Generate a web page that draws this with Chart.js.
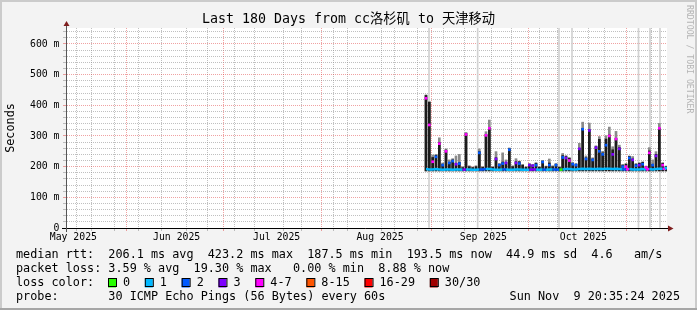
<!DOCTYPE html>
<html>
<head>
<meta charset="utf-8">
<script src="https://cdn.jsdelivr.net/npm/chart.js@4.4.1/dist/chart.umd.min.js"></script>
<style>
  html, body { margin: 0; padding: 0; background: #f3f3f3; }
  #smoke { display: block; width: 697px; height: 310px; }
</style>
</head>
<body>
<canvas id="smoke" width="697" height="310"></canvas>
<script>
const MONO = '"DejaVu Sans Mono", "Noto Sans CJK SC", monospace';
const TITLE = 'Last 180 Days from cc洛杉矶 to 天津移动';

// x is measured in days from the left edge of the 180 day window
const X_MAX = 180;
const WEEK_TICKS = [3.7, 10.7, 17.7, 24.7, 31.7, 38.7, 45.7, 52.7, 59.7, 66.7, 73.7, 80.7, 87.7,
    94.7, 101.7, 108.7, 115.7, 122.7, 129.7, 136.7, 143.7, 150.7, 157.7, 164.7, 171.7, 178.7];
const MONTH_TICKS = [17.9, 47.9, 78.9, 109.9, 139.9, 170.9];
const LABEL_TICKS = [1.9, 32.9, 62.9, 93.9, 124.9, 154.9];
const MONTH_LABELS = ['May 2025', 'Jun 2025', 'Jul 2025', 'Aug 2025', 'Sep 2025', 'Oct 2025'];

const Y_MAX = 652;
const Y_STEP = 20;
const Y_LABELS = ['0', '100 m', '200 m', '300 m', '400 m', '500 m', '600 m'];

// one sample per day, first one at day 107.7 (ms)
const FIRST_DAY = 107.7;
const SMOKE_FLOOR = 186;
const BLACK_TOP = [432, 410, 230, 237, 279, 208, 254, 214, 222, 211, 214, 197, 309, 200, 197, 200,
    249, 198, 305, 327, 198, 229, 208, 215, 214, 258, 200, 216, 216, 205, 198, 208, 205, 211, 198,
    218, 200, 212, 200, 208, 198, 236, 233, 227, 211, 208, 260, 325, 229, 320, 225, 265, 289, 245,
    290, 303, 255, 292, 262, 205, 208, 233, 225, 208, 211, 214, 200, 251, 208, 240, 325, 211, 200];
const GRAY_TOP = [434, 412, 238, 240, 294, 212, 258, 222, 226, 235, 240, 200, 311, 203, 199, 203,
    258, 200, 314, 352, 200, 249, 210, 245, 222, 261, 203, 226, 218, 207, 200, 210, 207, 213, 200,
    220, 202, 225, 203, 210, 200, 243, 236, 230, 214, 210, 276, 345, 235, 342, 229, 268, 298, 250,
    301, 329, 265, 315, 270, 207, 210, 235, 233, 210, 213, 216, 202, 262, 222, 249, 341, 213, 202];
const SPIKE_MED = [423, 336, 216, 232, 275, 205, 250, 212, 218, 208, 210, null, 305, null, null, null,
    245, null, 302, 325, null, 225, 205, 210, 212, 255, null, 212, 210, null, null, 205, 203, 205, null,
    215, null, 205, null, 205, null, 230, 228, 220, 208, 205, 258, 322, 225, 318, 222, 262, 250, 240,
    270, 300, 240, 290, 258, 200, 200, 228, 222, 203, 205, 208, 197, 245, 205, 235, 325, 205, 195];
const SPIKE_LOSS = [4, 4, 4, 2, 4, 2, 4, 2, 2, 3, 2, 1, 4, 1, 1, 1,
    2, 1, 4, 4, 1, 3, 2, 2, 3, 2, 1, 3, 2, 1, 1, 3, 3, 2, 1,
    2, 1, 2, 1, 2, 1, 2, 3, 4, 2, 2, 3, 2, 2, 3, 2, 3, 2, 2,
    2, 4, 3, 4, 3, 2, 4, 2, 3, 2, 3, 2, 4, 4, 2, 3, 4, 4, 1];
const BASE_MED = [192, 191, 191, 192, 191, 190, 191, 191, 190, 191, 191, 190, 191, 191, 190, 190,
    191, 191, 192, 192, 191, 190, 190, 191, 191, 190, 190, 191, 191, 190, 190, 190, 191, 191, 190,
    191, 190, 191, 191, 191, 190, 191, 192, 192, 191, 191, 192, 193, 192, 193, 192, 192, 193, 192,
    193, 193, 192, 193, 192, 191, 191, 192, 191, 191, 191, 192, 191, 192, 191, 192, 193, 193, 193];
const BASE_LOSS = [1, 1, 1, 1, 1, 1, 1, 1, 1, 1, 1, 3, 1, 1, 1, 1,
    2, 2, 1, 1, 1, 1, 1, 2, 1, 1, 1, 1, 1, 1, 1, 3, 3, 1, 1,
    2, 1, 1, 2, 2, 0, 1, 1, 1, 1, 1, 1, 1, 1, 1, 1, 1, 1, 1,
    1, 1, 1, 1, 1, 2, 4, 1, 1, 1, 1, 1, 4, 1, 1, 1, 1, 4, 1];
// columns where the smoke runs off the top of the graph
const TALL_DAYS = [108.6, 123.2, 147.6, 151.5, 171.45, 174.9, 177.9];

const LOSS_COLORS = ['#26ff00', '#00b8ff', '#0059ff', '#7e00ff', '#ff00ff', '#ff5500', '#ff0000', '#a00000'];
const LOSS_LABELS = ['0', '1', '2', '3', '4-7', '8-15', '16-29', '30/30'];

const GRID = 'rgba(140,140,140,0.55)';
const MGRID = 'rgba(222,48,48,0.45)';

const days = BLACK_TOP.map((v, i) => FIRST_DAY + i);
const spikes = [];
SPIKE_MED.forEach((v, i) => { if (v !== null) spikes.push({ x: days[i], y: v, c: LOSS_COLORS[SPIKE_LOSS[i]] }); });

// all x ticks on one scale: weekly minor grid, monthly major grid, mid-month labels
const xTicks = []
    .concat(WEEK_TICKS.map(v => ({ value: v, kind: 'week' })))
    .concat(MONTH_TICKS.map(v => ({ value: v, kind: 'month' })))
    .concat(LABEL_TICKS.map((v, i) => ({ value: v, kind: 'label', text: MONTH_LABELS[i] })))
    .sort((a, b) => a.value - b.value);

function xGridColor(c) {
    if (!c.tick) return 'transparent';
    if (c.tick.kind === 'month') return MGRID;
    if (c.tick.kind === 'week') return GRID;
    return 'transparent';
}

// rrdtool style frame, axes, title and legend
const frame = {
    id: 'frame',
    beforeDraw(chart) {
        const { ctx, chartArea: a } = chart;
        ctx.save();
        ctx.fillStyle = '#f3f3f3';
        ctx.fillRect(0, 0, 697, 310);
        ctx.fillStyle = '#cbcbcb';
        ctx.fillRect(0, 0, 697, 2);
        ctx.fillRect(0, 0, 2, 310);
        ctx.fillRect(695, 0, 2, 310);
        ctx.fillStyle = '#a6a6a6';
        ctx.fillRect(0, 308, 697, 2);
        ctx.fillStyle = '#ffffff';
        ctx.fillRect(a.left, a.top, a.right - a.left, a.bottom - a.top);
        ctx.restore();
    },
    afterDraw(chart) {
        const { ctx, chartArea: a } = chart;
        ctx.save();
        // axes
        ctx.lineWidth = 1;
        ctx.strokeStyle = '#000';
        ctx.beginPath();
        ctx.moveTo(a.left - 5, a.bottom + 0.5);
        ctx.lineTo(a.right + 2, a.bottom + 0.5);
        ctx.stroke();
        ctx.strokeStyle = '#555';
        ctx.beginPath();
        ctx.moveTo(a.left - 0.5, a.bottom + 4);
        ctx.lineTo(a.left - 0.5, a.top - 3);
        ctx.stroke();
        ctx.fillStyle = '#7f1f1f';
        ctx.beginPath();
        ctx.moveTo(a.right + 1, a.bottom - 2.5);
        ctx.lineTo(a.right + 1, a.bottom + 3.5);
        ctx.lineTo(a.right + 6.5, a.bottom + 0.5);
        ctx.fill();
        ctx.beginPath();
        ctx.moveTo(a.left - 3.5, a.top - 2);
        ctx.lineTo(a.left + 2.5, a.top - 2);
        ctx.lineTo(a.left - 0.5, a.top - 7);
        ctx.fill();

        // title and axis caption
        ctx.fillStyle = '#000';
        ctx.textBaseline = 'middle';
        ctx.textAlign = 'center';
        ctx.font = '13.3px ' + MONO;
        ctx.fillText(TITLE, 348.5, 20);
        ctx.save();
        ctx.translate(11, 128);
        ctx.rotate(-Math.PI / 2);
        ctx.font = '11.8px ' + MONO;
        ctx.fillText('Seconds', 0, 0);
        ctx.restore();
        ctx.save();
        ctx.translate(689, 5);
        ctx.rotate(Math.PI / 2);
        ctx.textAlign = 'left';
        ctx.fillStyle = '#b4b4b4';
        ctx.font = '8.2px ' + MONO;
        ctx.fillText('RRDTOOL / TOBI OETIKER', 0, 0);
        ctx.restore();

        // legend block
        ctx.textAlign = 'left';
        ctx.font = '11.8px ' + MONO;
        ctx.fillText('median rtt:  206.1 ms avg  423.2 ms max  187.5 ms min  193.5 ms now  44.9 ms sd  4.6   am/s', 16, 255);
        ctx.fillText('packet loss: 3.59 % avg  19.30 % max   0.00 % min  8.88 % now', 16, 269);
        ctx.fillText('loss color:', 16, 283);
        ctx.fillText('probe:       30 ICMP Echo Pings (56 Bytes) every 60s', 16, 297);
        ctx.textAlign = 'right';
        ctx.fillText('Sun Nov  9 20:35:24 2025', 680, 297);
        ctx.textAlign = 'left';
        let bx = 108;
        LOSS_LABELS.forEach((lab, i) => {
            ctx.fillStyle = LOSS_COLORS[i];
            ctx.fillRect(bx, 278.5, 8, 9);
            ctx.strokeStyle = '#000';
            ctx.strokeRect(bx + 0.5, 278.5, 8, 8);
            ctx.fillStyle = '#000';
            ctx.fillText(lab, bx + 15, 283);
            bx += 15 + lab.length * 7.12 + 14.7;
        });
        ctx.restore();
    }
};

new Chart(document.getElementById('smoke').getContext('2d'), {
    type: 'bar',
    data: {
        datasets: [
            {
                label: 'tall',
                order: 5,
                data: TALL_DAYS.map(d => ({ x: d, y: [0, Y_MAX] })),
                backgroundColor: '#d2d2d2',
                barThickness: 1,
                grouped: false
            },
            {
                label: 'smoke light',
                order: 4,
                data: days.map((d, i) => ({ x: d, y: [SMOKE_FLOOR, GRAY_TOP[i]] })),
                backgroundColor: '#8a8a8a',
                barThickness: 2,
                grouped: false
            },
            {
                label: 'smoke dark',
                order: 3,
                data: days.map((d, i) => ({ x: d, y: [SMOKE_FLOOR, BLACK_TOP[i]] })),
                backgroundColor: '#1c1c1c',
                barThickness: 2,
                grouped: false
            },
            {
                type: 'line',
                label: 'median',
                order: 2,
                data: days.map((d, i) => ({ x: d, y: BASE_MED[i] })),
                borderWidth: 2.5,
                pointRadius: 0,
                tension: 0,
                segment: { borderColor: c => LOSS_COLORS[BASE_LOSS[c.p0DataIndex]] }
            },
            {
                type: 'line',
                label: 'median spikes',
                order: 1,
                data: spikes,
                showLine: false,
                pointStyle: 'rect',
                pointRadius: 1.9,
                pointBorderWidth: 0,
                pointBackgroundColor: spikes.map(p => p.c)
            }
        ]
    },
    options: {
        responsive: false,
        animation: false,
        devicePixelRatio: 1,
        layout: { padding: { left: 0, right: 30, top: 28, bottom: 0 } },
        plugins: { legend: { display: false }, tooltip: { enabled: false } },
        scales: {
            x: {
                type: 'linear', min: 0, max: X_MAX, offset: false, position: 'bottom',
                afterBuildTicks: s => { s.ticks = xTicks.map(t => Object.assign({}, t)); },
                afterFit: s => { s.height = 82; },
                ticks: {
                    autoSkip: false, maxRotation: 0, minRotation: 0, padding: 1, color: '#000',
                    font: { family: MONO, size: 9.8 },
                    callback: (v, i, ticks) => (ticks[i].kind === 'label' ? ticks[i].text : '')
                },
                grid: { color: xGridColor, tickLength: 3 },
                border: { display: false, dash: [1, 1] }
            },
            y: {
                type: 'linear', min: 0, max: Y_MAX,
                afterBuildTicks: s => {
                    const t = [];
                    for (let v = 0; v <= Y_MAX; v += Y_STEP) t.push({ value: v });
                    s.ticks = t;
                },
                afterFit: s => { s.width = 67; },
                ticks: {
                    autoSkip: false, padding: 3.5, color: '#000',
                    font: { family: MONO, size: 9.8 },
                    callback: v => (v % 100 === 0 ? Y_LABELS[v / 100] : '')
                },
                grid: {
                    color: c => (c.tick && c.tick.value % 100 === 0 ? MGRID : GRID),
                    tickLength: 4
                },
                border: { display: false, dash: [1, 1] }
            }
        }
    },
    plugins: [frame]
});
</script>
</body>
</html>
